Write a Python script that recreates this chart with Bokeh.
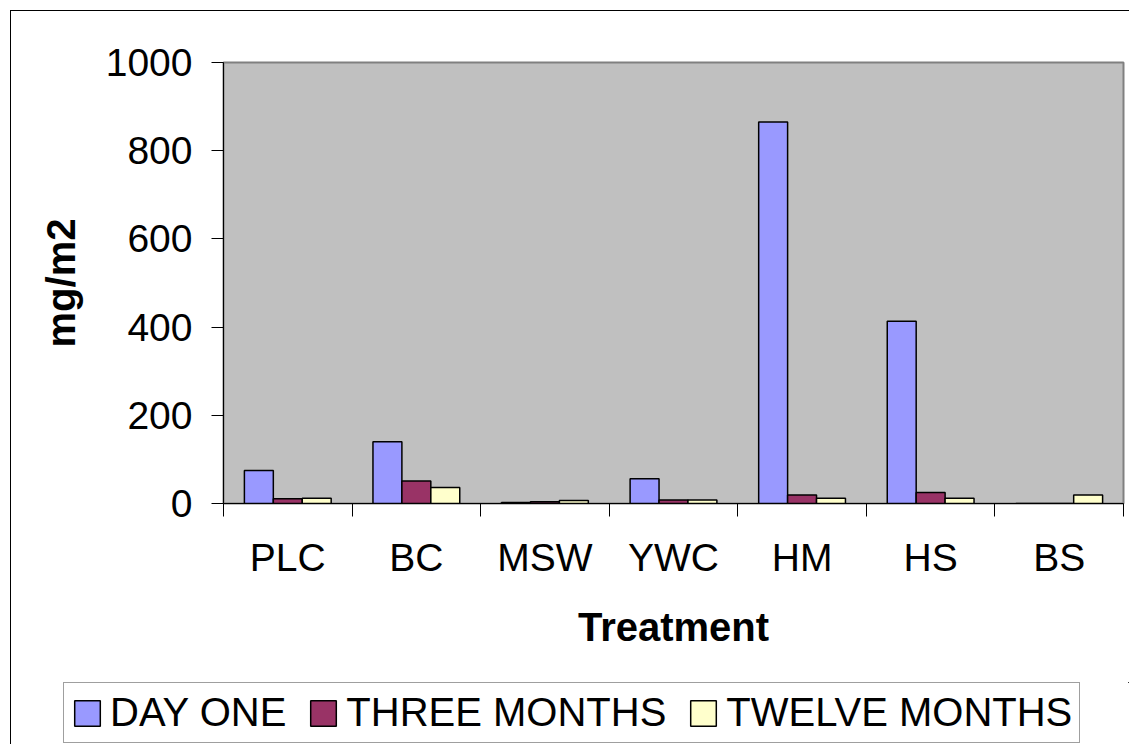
from bokeh.plotting import figure
from bokeh.models import (ColumnDataSource, Range1d, FixedTicker, Legend, LegendItem)
from bokeh.layouts import column
from bokeh.transform import dodge
from bokeh.embed import file_html
from bokeh.resources import INLINE

# ---- data ----
categories = ["PLC", "BC", "MSW", "YWC", "HM", "HS", "BS"]
series_names = ["DAY ONE", "THREE MONTHS", "TWELVE MONTHS"]
series_keys = ["day_one", "three_months", "twelve_months"]
day_one = [75, 140, 2, 56, 865, 413, 0]
three_months = [11, 51, 4, 8, 19, 25, 0]
twelve_months = [12, 36, 7, 8, 12, 12, 19]
y_ticks = [0, 200, 400, 600, 800, 1000]

colors = ["#9999FF", "#993366", "#FFFFCC"]
FONT = "Liberation Sans"

centers = [i + 0.5 for i in range(len(categories))]
source = ColumnDataSource(dict(x=centers, cat=categories,
                               day_one=day_one, three_months=three_months,
                               twelve_months=twelve_months))

W = 1118
p = figure(width=W, height=671, output_backend="svg", toolbar_location=None,
           x_range=Range1d(0, len(categories)), y_range=Range1d(0, 1000),
           min_border_left=212, min_border_right=6, min_border_top=51,
           min_border_bottom=179)

p.background_fill_color = "#C0C0C0"
p.border_fill_color = "white"
p.outline_line_color = "#808080"
p.outline_line_width = 2
p.xgrid.grid_line_color = None
p.ygrid.grid_line_color = None

bar_w = 0.225
offsets = [-bar_w, 0.0, bar_w]
for col, off, color in zip(series_keys, offsets, colors):
    p.vbar(x=dodge("x", off, range=p.x_range), top=col, width=bar_w, bottom=0,
           source=source, fill_color=color, line_color="black", line_width=1.5)

# x axis: labels at category centres, tick marks at category boundaries
xa = p.xaxis[0]
xa.ticker = FixedTicker(ticks=centers, minor_ticks=list(range(len(categories) + 1)))
xa.major_label_overrides = {c: name for c, name in zip(centers, categories)}
xa.major_tick_line_color = None
xa.major_tick_out = 0
xa.major_tick_in = 0
xa.minor_tick_line_color = "black"
xa.minor_tick_out = 13
xa.minor_tick_in = 0
xa.axis_line_color = "black"
xa.major_label_text_font = FONT
xa.major_label_text_font_size = "39px"
xa.major_label_text_color = "black"
xa.major_label_standoff = 19
xa.axis_label = "Treatment"
xa.axis_label_text_font = FONT
xa.axis_label_text_font_size = "40px"
xa.axis_label_text_font_style = "bold"
xa.axis_label_text_color = "black"
xa.axis_label_standoff = 23

ya = p.yaxis[0]
ya.ticker = FixedTicker(ticks=y_ticks)
ya.axis_line_color = "black"
ya.major_tick_line_color = "black"
ya.major_tick_out = 12
ya.major_tick_in = 0
ya.minor_tick_line_color = None
ya.major_label_text_font = FONT
ya.major_label_text_font_size = "39px"
ya.major_label_text_color = "black"
ya.major_label_standoff = 19
ya.axis_label = "mg/m2"
ya.axis_label_text_font = FONT
ya.axis_label_text_font_size = "40px"
ya.axis_label_text_font_style = "bold"
ya.axis_label_text_color = "black"
ya.axis_label_standoff = 20

# legend strip below the chart (its own frame, so the legend is not clipped)
lg = figure(width=W, height=62, output_backend="svg", toolbar_location=None,
            x_range=Range1d(0, 1), y_range=Range1d(-2, -1),
            x_axis_location=None, y_axis_location=None,
            min_border_left=0, min_border_right=0, min_border_top=0,
            min_border_bottom=0, outline_line_color=None)
lg.xgrid.grid_line_color = None
lg.ygrid.grid_line_color = None
lg.background_fill_color = "white"
lg.border_fill_color = "white"
for fig in (p, lg):
    if "frame_align" in fig.properties():
        fig.frame_align = False
items = []
for name, col, off, color in zip(series_names, series_keys, offsets, colors):
    # same bars as the chart, outside this strip's visible range; only the legend swatch shows
    r = lg.vbar(x=dodge("x", off, range=lg.x_range), top=col, width=bar_w, bottom=0,
                source=source, fill_color=color, line_color="black", line_width=1.5)
    items.append(LegendItem(label=name, renderers=[r]))

legend = Legend(items=items, orientation="horizontal", location=(52, 1), margin=0,
                padding=7, spacing=21, glyph_width=32, glyph_height=32,
                label_standoff=7, label_text_font=FONT, label_text_font_size="40px",
                label_text_color="black", border_line_color="#404040",
                border_line_width=1, background_fill_color="white",
                background_fill_alpha=1.0)
lg.add_layout(legend, "center")

layout = column(p, lg, spacing=0)
layout.styles = {"margin-left": "10px", "margin-top": "10px",
                 "border-left": "1px solid black", "border-top": "1px solid black"}

open("out.html", "w").write(file_html(layout, INLINE))
